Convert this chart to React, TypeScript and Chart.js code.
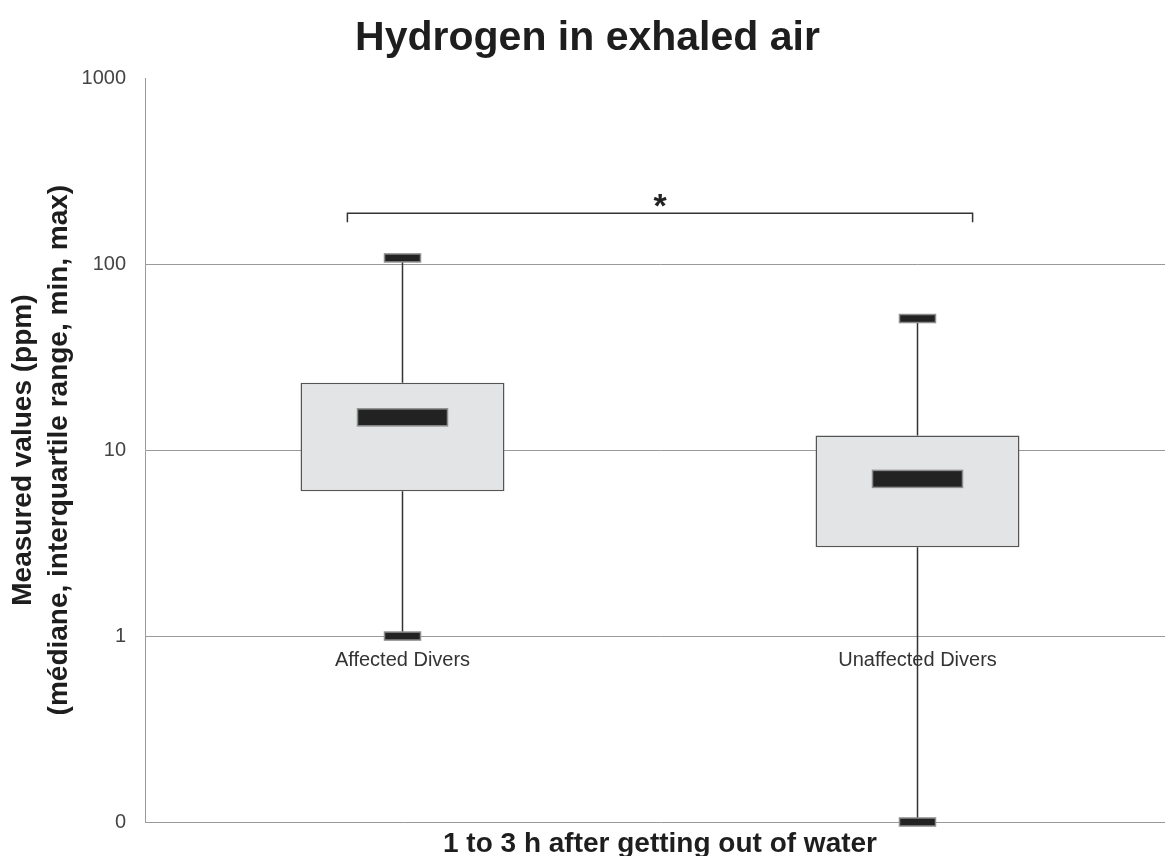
import React, { useEffect, useRef } from 'react';
import { Chart, registerables } from 'chart.js';

Chart.register(...registerables);

// ---------- data ----------
const categories = ['Affected Divers', 'Unaffected Divers'];
const minValues = [1, 0.1];
const q1Values = [6, 3];
const medianValues = [15, 7];
const q3Values = [23, 12];
const maxValues = [108, 51];

const yTickValues = [0.1, 1, 10, 100, 1000];
const yTickLabels = ['0', '1', '10', '100', '1000'];

const comparisonFrom = [0];
const comparisonTo = [1];
const comparisonLevel = [188];
const comparisonMark = ['*'];

const chartTitle = 'Hydrogen in exhaled air';
const xTitle = '1 to 3 h after getting out of water';
const yTitle = ['Measured values (ppm)', '(médiane, interquartile range, min, max)'];

// ---------- styles ----------
const FONT = "'Liberation Sans', Arial, Helvetica, sans-serif";
const TEXT = '#1e1e1e';
const GRID = '#9a9a9a';

const boxPlugin = {
  id: 'boxWhiskers',
  afterDatasetsDraw(chart: any) {
    const { ctx, scales } = chart;
    const x = scales.x;
    const y = scales.y;
    const catW = x.width / categories.length;
    ctx.save();
    const rect = (cx: number, cy: number, w: number, h: number) => {
      ctx.fillStyle = '#222222';
      ctx.fillRect(cx - w / 2, cy - h / 2, w, h);
      ctx.strokeStyle = '#8c8c8c';
      ctx.lineWidth = 1.5;
      ctx.strokeRect(cx - w / 2, cy - h / 2, w, h);
    };
    categories.forEach((_, i) => {
      const cx = x.getPixelForValue(i);
      const yMin = y.getPixelForValue(minValues[i]);
      const yQ1 = y.getPixelForValue(q1Values[i]);
      const yMed = y.getPixelForValue(medianValues[i]);
      const yQ3 = y.getPixelForValue(q3Values[i]);
      const yMax = y.getPixelForValue(maxValues[i]);
      ctx.strokeStyle = '#333333';
      ctx.lineWidth = 1.5;
      ctx.beginPath();
      ctx.moveTo(cx, yQ3);
      ctx.lineTo(cx, yMax);
      ctx.moveTo(cx, yQ1);
      ctx.lineTo(cx, yMin);
      ctx.stroke();
      rect(cx, yMax, 36, 8);
      rect(cx, yMin, 36, 8);
      rect(cx, yMed, 90, 17);
    });

    // significance brackets
    comparisonFrom.forEach((a, k) => {
      const b = comparisonTo[k];
      const inset = 0.107 * catW;
      const x0 = x.getPixelForValue(a) - inset;
      const x1 = x.getPixelForValue(b) + inset;
      const yb = y.getPixelForValue(comparisonLevel[k]);
      ctx.strokeStyle = '#333333';
      ctx.lineWidth = 1.5;
      ctx.beginPath();
      ctx.moveTo(x0, yb + 9);
      ctx.lineTo(x0, yb);
      ctx.lineTo(x1, yb);
      ctx.lineTo(x1, yb + 9);
      ctx.stroke();
      ctx.fillStyle = '#222222';
      ctx.font = `bold 34px ${FONT}`;
      ctx.textAlign = 'center';
      ctx.textBaseline = 'alphabetic';
      ctx.fillText(comparisonMark[k], (x0 + x1) / 2, yb + 4);
    });
    ctx.restore();
  },
};

export default function App() {
  const canvasRef = useRef<HTMLCanvasElement | null>(null);

  useEffect(() => {
    if (!canvasRef.current) return;
    Chart.defaults.font.family = FONT;
    const chart = new Chart(canvasRef.current, {
      type: 'bar',
      data: {
        labels: categories,
        datasets: [
          {
            label: 'IQR',
            data: categories.map((_, i) => [q1Values[i], q3Values[i]]) as any,
            backgroundColor: '#e3e4e6',
            borderColor: '#555555',
            borderWidth: 1.5,
            borderSkipped: false,
            barPercentage: 0.396,
            categoryPercentage: 1,
          },
        ],
      },
      options: {
        animation: false,
        responsive: true,
        maintainAspectRatio: false,
        layout: { padding: 0 },
        plugins: {
          legend: { display: false },
          tooltip: { enabled: false },
          title: {
            display: true,
            text: chartTitle,
            color: TEXT,
            font: { family: FONT, size: 41, weight: 'bold', lineHeight: 1.2 },
            padding: { top: 14, bottom: 15 },
          },
        },
        scales: {
          x: {
            type: 'category',
            position: 'bottom',
            offset: true,
            grid: { display: false, drawTicks: false },
            border: { display: false },
            ticks: { display: false },
            title: {
              display: true,
              text: xTitle,
              color: TEXT,
              font: { family: FONT, size: 28, weight: 'bold', lineHeight: 0.86 },
              padding: 0,
            },
            afterFit(s: any) {
              s.height = 34;
            },
          } as any,
          x2: {
            type: 'category',
            labels: categories,
            position: { y: 1 },
            offset: true,
            grid: { display: false, drawTicks: false },
            border: { display: false },
            ticks: { color: '#333333', font: { family: FONT, size: 20 }, padding: 12 },
          } as any,
          y: {
            type: 'logarithmic',
            min: 0.1,
            max: 1000,
            afterBuildTicks(s: any) {
              s.ticks = yTickValues.map((v) => ({ value: v }));
            },
            ticks: {
              color: '#444444',
              font: { family: FONT, size: 20 },
              padding: 19,
              callback: (v: any) => {
                const idx = yTickValues.indexOf(Number(v));
                return idx >= 0 ? yTickLabels[idx] : '';
              },
            },
            grid: {
              color: (c: any) => (c.tick && c.tick.value === 1000 ? 'rgba(0,0,0,0)' : GRID),
              lineWidth: 1,
              drawTicks: false,
              tickLength: 0,
            },
            border: { display: true, color: GRID, width: 1 },
            title: {
              display: true,
              text: yTitle,
              color: TEXT,
              font: { family: FONT, size: 28, weight: 'bold', lineHeight: 1.286 },
              padding: { top: 5, bottom: 0 },
            },
            afterFit(s: any) {
              s.width = 145;
            },
          } as any,
        },
      },
      plugins: [boxPlugin],
    });
    return () => chart.destroy();
  }, []);

  return (
    <div
      style={{
        position: 'absolute',
        left: 0,
        top: 0,
        width: 1165,
        height: 856,
        overflow: 'hidden',
        background: '#ffffff',
      }}
    >
      <div style={{ position: 'relative', width: 1175, height: 856 }}>
        <canvas ref={canvasRef} />
      </div>
    </div>
  );
}
